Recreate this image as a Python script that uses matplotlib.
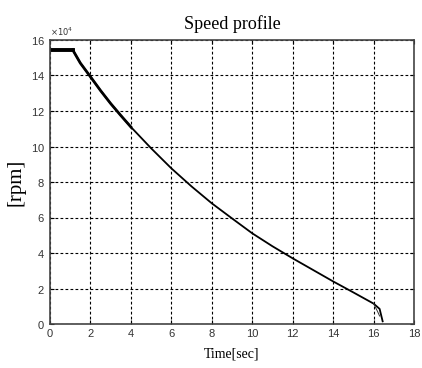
import matplotlib
matplotlib.use('Agg')

import matplotlib.pyplot as plt
import numpy as np

# speed profile (rpm)
t = [0, 0.5, 1.12, 1.5, 2, 2.5, 3, 3.5, 4, 5, 6, 7, 8, 9, 10,
     11, 12, 13, 14, 15, 16, 16.3, 16.45]
rpm = [15.45e4, 15.45e4, 15.45e4, 14.7e4, 13.93e4, 13.15e4, 12.42e4, 11.75e4, 11.1e4, 9.9e4,
       8.77e4, 7.75e4, 6.8e4, 5.95e4, 5.11e4, 4.38e4, 3.7e4, 3.05e4, 2.4e4, 1.78e4,
       1.15e4, 0.85e4, 0.15e4]
# small fork at the end of the run
t_fork = [16.0, 16.2, 16.3]
rpm_fork = [1.15e4, 0.7e4, 0.45e4]

xticks = np.arange(0, 19, 2)
yticks = np.arange(0, 17e4, 2e4)

fig = plt.figure(figsize=(4.22, 3.68), dpi=100)
ax = fig.add_axes([50 / 422, 1 - 324 / 368, 364 / 422, 284 / 368])

ax.plot(t, rpm, color='black', lw=1.3)
ax.plot(t[:3], rpm[:3], color='black', lw=2.8)
ax.plot(t[2:9], rpm[2:9], color='black', lw=2.0)
ax.plot(t_fork, rpm_fork, color='#333333', lw=0.7)

ax.set_xlim(0, 18)
ax.set_ylim(0, 16e4)
ax.set_xticks(xticks)
ax.set_yticks(yticks)
ax.ticklabel_format(axis='y', style='sci', scilimits=(4, 4), useMathText=True)
ax.yaxis.get_offset_text().set_fontsize(6)
ax.yaxis.get_offset_text().set_color('#333333')

ax.grid(True, color='black', linestyle=(0, (2.5, 2)), lw=0.8)
ax.tick_params(direction='in', labelsize=8, labelcolor='#333333', length=3, top=True, right=True)
for lab in ax.get_xticklabels() + ax.get_yticklabels():
    lab.set_family('Liberation Sans')
for s in ax.spines.values():
    s.set_color('#444444')
    s.set_linewidth(1.2)

ax.set_title('Speed profile', family='Liberation Serif', fontsize=13, pad=8)
ax.set_xlabel('Time[sec]', family='Liberation Serif', fontsize=10, labelpad=6)
ax.set_ylabel('[rpm]', family='Liberation Serif', fontsize=15, labelpad=4)

plt.savefig('out.png', dpi=100)
plt.close(fig)
